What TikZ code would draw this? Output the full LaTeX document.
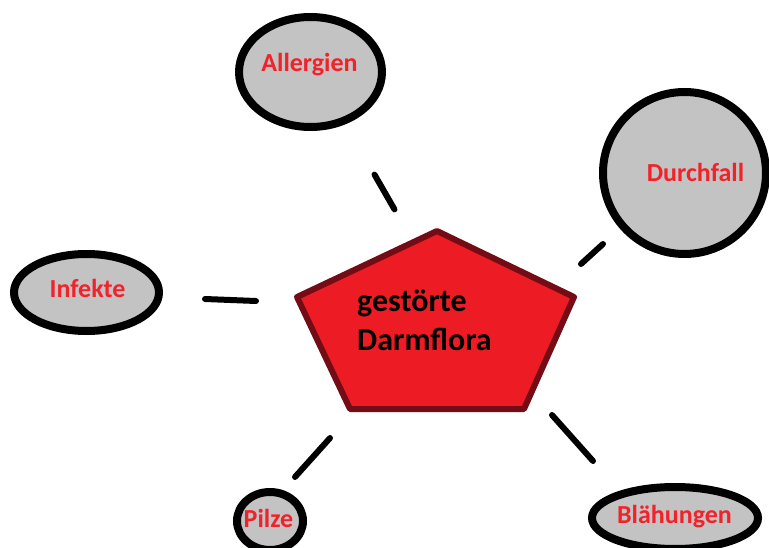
\documentclass[tikz,border=0pt]{standalone}
\usepackage{fontspec}
\setmainfont{Carlito}
\usetikzlibrary{shapes.geometric}

\definecolor{darmred}{HTML}{ED1C24}
\definecolor{darmrim}{HTML}{730C14}
\definecolor{bubblegray}{HTML}{C3C3C3}
\definecolor{tagred}{HTML}{F2222A}

\tikzset{
	bubble/.style={ellipse, draw=black, fill=bubblegray, line width=8pt, inner sep=0pt},
	tag/.style={text=tagred, font=\fontsize{26}{30}\selectfont\bfseries, anchor=base, inner sep=0pt},
	link/.style={line width=6pt, line cap=round}
}

\begin{document}
\begin{tikzpicture}[x=1pt,y=-1pt]
		\useasboundingbox (0,0) rectangle (769,548);
		\fill[white] (0,0) rectangle (769,548);

		% the pentagon in the middle
		\filldraw[fill=darmred, draw=darmrim, line width=6pt, line join=round]
			(437,231) -- (574,297) -- (524,409) -- (350,409) -- (297,297) -- cycle;
		\node[anchor=base west, align=left, inner sep=0pt, font=\fontsize{32}{39}\selectfont\bfseries] (darm) at (357,350) {gestörte\\Darmflora};

		% bubbles
		\node[bubble, minimum width=143pt, minimum height=110pt] (allergien) at (310.5,72) {};
		\node[bubble, minimum width=163pt, minimum height=162pt] (durchfall) at (684.5,173) {};
		\node[bubble, minimum width=145pt, minimum height=77pt] (infekte) at (86.5,292.5) {};
		\node[bubble, minimum width=66pt, minimum height=58pt] (pilze) at (270,521) {};
		\node[bubble, minimum width=166pt, minimum height=62pt] (blaehungen) at (675,518) {};

		\node[tag] (allergien-t) at (309.5,72) {Allergien};
		\node[tag] (durchfall-t) at (695.5,182) {Durchfall};
		\node[tag] (infekte-t) at (87.5,298) {Infekte};
		\node[tag] (pilze-t) at (268.5,527) {Pilze};
		\node[tag] (blaehungen-t) at (674.5,523) {Blähungen};

		% connectors
		\foreach \n/\ax/\ay/\bx/\by in {allergien/374.5/174.6/394.5/209.4, durchfall/603/244/581/264, infekte/205/299/256/301, pilze/330/438/295/477, blaehungen/552/415/593/461} {
			\coordinate (\n-a) at (\ax,\ay);
			\coordinate (\n-b) at (\bx,\by);
			\draw[link] (\n-a) -- (\n-b);
		}
\end{tikzpicture}
\end{document}
